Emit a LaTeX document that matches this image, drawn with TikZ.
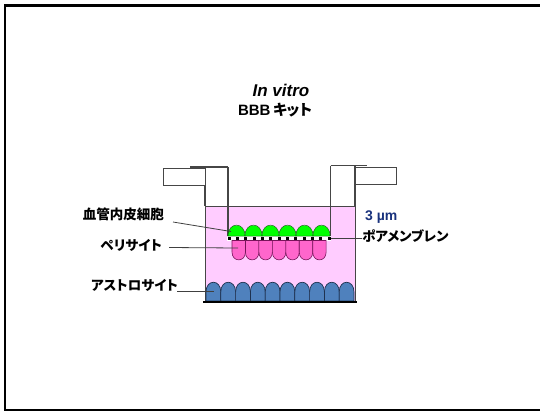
\documentclass[tikz,border=0pt]{standalone}
\usepackage{fontspec}
\setmainfont{Liberation Sans}
\newfontfamily\jpfont{Noto Sans CJK JP}[RawFeature=+palt]
\definecolor{wellpink}{RGB}{255,204,255}
\definecolor{endogreen}{RGB}{0,255,0}
\definecolor{endoline}{RGB}{0,110,0}
\definecolor{pericyte}{RGB}{255,102,204}
\definecolor{periline}{RGB}{120,20,90}
\definecolor{astro}{RGB}{79,129,189}
\definecolor{astroline}{RGB}{30,50,80}
\definecolor{poreblue}{RGB}{25,50,125}
\definecolor{wallgray}{RGB}{70,70,70}
\tikzset{
  wall/.style={draw=wallgray, line width=1.1pt},
  lbl/.style={font=\jpfont\bfseries\fontsize{13.5}{15}\selectfont, inner sep=0pt},
  pointer/.style={draw=black!75, line width=0.8pt},
  endocell/.style={fill=endogreen, draw=endoline, line width=0.5pt},
  pericell/.style={fill=pericyte, draw=periline, line width=0.6pt},
  astrocell/.style={fill=astro, draw=astroline, line width=0.7pt},
}
\begin{document}
\begin{tikzpicture}[x=1pt, y=-1pt]
\useasboundingbox (0,0) rectangle (540,413);
% outer frame (open on the right)
\draw[line width=2.2pt] (540,5.5) -- (5,5.5) -- (5,410) -- (540,410);

% titles
\node[font=\bfseries\itshape\fontsize{17}{19}\selectfont, inner sep=0pt] (title1) at (281,90) {In vitro};
\node[font=\bfseries\fontsize{15}{18}\selectfont, inner sep=0pt] (title2) at (275,110) {BBB\,{\jpfont キット}};

% culture well with medium
\node[fill=wellpink, draw=wallgray, line width=0.8pt, minimum width=150pt, minimum height=96pt, inner sep=0pt, anchor=north west] (well) at (205,206) {};

% insert walls and hanging tabs
\draw[wall] (190,167) -- (228,167);
\draw[wall] (205,167) -- (205,206);
\draw[wall] (228,167) -- (228,238);
\draw[wall] (330.5,165.5) -- (367,165.5);
\draw[wall] (330.5,165.5) -- (330.5,238);
\draw[wall] (355,165.5) -- (355,206);
\node[draw=wallgray, line width=1.1pt, fill=white, minimum width=42pt, minimum height=16.5pt, inner sep=0pt, anchor=north west] (tabL) at (163,168) {};
\node[draw=wallgray, line width=1.1pt, fill=white, minimum width=41pt, minimum height=16.5pt, inner sep=0pt, anchor=north west] (tabR) at (355,167) {};

% porous membrane
\fill[white] (227,236) rectangle (331,240.5);
\foreach \k in {0,...,12} {
  \fill[black] ({227.5+8.35*\k},236.5) rectangle ({230.5+8.35*\k},239.8);
}
\coordinate (memR) at (331,238.3);

% endothelial cells on top of the membrane
\foreach \k in {0,...,5} {
  \pgfmathsetmacro{\xa}{228+17*\k}
  \pgfmathsetmacro{\xb}{245+17*\k}
  \draw[endocell] (\xa,236) .. controls (\xa,221.5) and (\xb,221.5) .. (\xb,236) -- cycle;
}
\coordinate (endo) at (231,231.5);

% pericytes under the membrane
\foreach \k in {0,...,6} {
  \pgfmathsetmacro{\xa}{232+13.45*\k}
  \pgfmathsetmacro{\xb}{245.45+13.45*\k}
  \draw[pericell] (\xa,240.5) -- (\xa,252) .. controls (\xa,262.5) and (\xb,262.5) .. (\xb,252) -- (\xb,240.5) -- cycle;
}
\coordinate (peri) at (238,248);

% astrocytes on the well bottom
\foreach \k in {0,...,9} {
  \pgfmathsetmacro{\xa}{206+14.8*\k}
  \pgfmathsetmacro{\xb}{220.8+14.8*\k}
  \draw[astrocell] (\xa,301) -- (\xa,292) .. controls (\xa,279) and (\xb,279) .. (\xb,292) -- (\xb,301) -- cycle;
}
\coordinate (astroc) at (214,291.5);
\draw[line width=2pt] (203,302) -- (357,302);

% labels and pointers
\node[lbl, anchor=east] (lendo) at (164,214) {血管内皮細胞};
\node[lbl, anchor=east] (lperi) at (162,245) {ペリサイト};
\node[lbl, anchor=east] (lastro) at (178,285) {アストロサイト};
\node[font=\bfseries\fontsize{14}{16}\selectfont, text=poreblue, inner sep=0pt, anchor=west] (lpore) at (365,217) {3 µm};
\node[lbl, anchor=west] (lmem) at (362,236.5) {ポアメンブレン};

\draw[pointer] (173,222) -- (endo);
\draw[pointer] (169,247.5) -- (peri);
\draw[pointer] (177,291.5) -- (astroc);
\draw[pointer] (memR) -- (lmem.west |- memR);
\end{tikzpicture}
\end{document}
